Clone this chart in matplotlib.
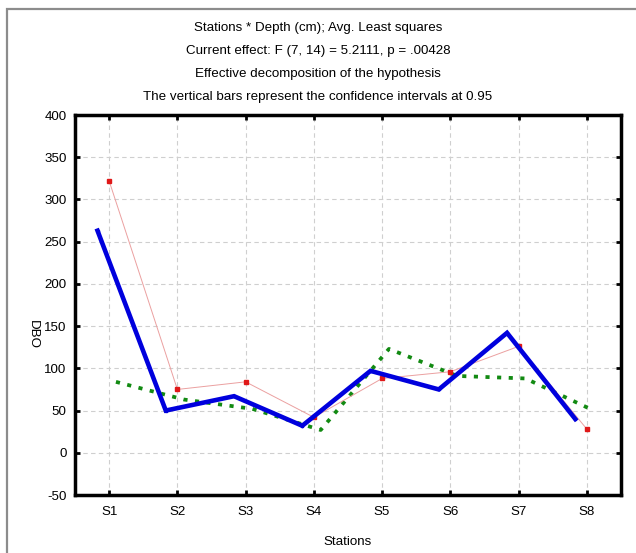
import matplotlib
matplotlib.use("Agg")
import matplotlib.pyplot as plt
from matplotlib.patches import Rectangle
import numpy as np

plt.rcParams['font.family'] = ['Liberation Sans', 'DejaVu Sans']

stations = ["S1", "S2", "S3", "S4", "S5", "S6", "S7", "S8"]
dbo_red = [322, 75, 84, 42, 88, 96, 126, 28]
dbo_blue = [263, 50, 67, 32, 97, 75, 142, 40]
dbo_green = [84, 63, 52, 27, 123, 91, 88, 50]
yticks = [-50, 0, 50, 100, 150, 200, 250, 300, 350, 400]

title_lines = [
    "Stations * Depth (cm); Avg. Least squares",
    "Current effect: F (7, 14) = 5.2111, p = .00428",
    "Effective decomposition of the hypothesis",
    "The vertical bars represent the confidence intervals at 0.95",
]

W, H = 636, 553
fig = plt.figure(figsize=(W / 100, H / 100), dpi=100)
ax = fig.add_axes([75 / W, 1 - 495 / H, (621 - 75) / W, (495 - 115) / H])

x = np.arange(1, len(stations) + 1)

# series are drawn slightly shifted so overlapping points stay visible
ax.plot(x, dbo_red, color="#eba0a0", lw=0.7, marker="s", ms=3.0,
        mfc="#e01818", mec="#e01818", zorder=3)
ax.plot(x - 0.17, dbo_blue, color="#0000dd", lw=3.3, marker="s", ms=2.0,
        solid_joinstyle="miter", zorder=4)
ax.plot(x + 0.1, dbo_green, color="#128a12", lw=2.7,
        linestyle=(0, (1.1, 2.0)), dash_capstyle="butt", zorder=2)

ax.set_xlim(0.5, 8.5)
ax.set_ylim(-50, 400)
ax.set_xticks(x)
ax.set_xticklabels(stations)
ax.set_yticks(yticks)
ax.set_yticklabels([str(v) for v in yticks])

ax.grid(True, color="#cfcfcf", linestyle=(0, (4, 3)), lw=0.8)
ax.set_axisbelow(True)

for s in ax.spines.values():
    s.set_linewidth(2.5)
    s.set_color("black")

ax.tick_params(direction="in", length=3.5, width=2, top=True, right=True,
               labelsize=9.6, colors="black")
ax.tick_params(axis="x", pad=8)
ax.tick_params(axis="y", pad=6)

ax.set_xlabel("Stations", fontsize=9.6, labelpad=13)
fig.text(33 / W, 1 - 335 / H, "DBO", rotation=-90, ha="center", va="center",
         fontsize=9.6)

for i, line in enumerate(title_lines):
    fig.text(0.5, 1 - (28 + 23 * i) / H, line, ha="center", va="center",
             fontsize=9.6)

fig.patches.append(Rectangle((7 / W, -0.1), 1.2, 1.1 - 9 / H,
                             transform=fig.transFigure, fill=False,
                             edgecolor="#8c8c8c", lw=1.6))

fig.savefig("out.png", dpi=100)
